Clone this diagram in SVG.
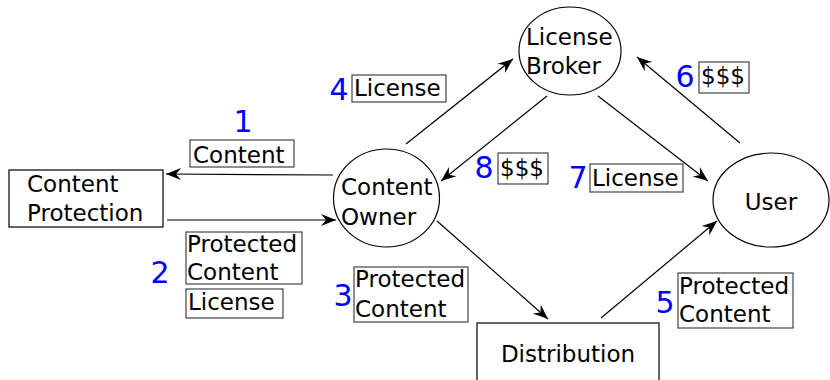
<svg xmlns="http://www.w3.org/2000/svg" width="830" height="380" viewBox="0 0 830 380">
<defs>
<style>
text{font-family:"DejaVu Sans",sans-serif;font-size:23px;fill:#000}
.num{font-size:30px;fill:#0000ff}
.node{fill:#fff;stroke:#000;stroke-width:1.2}
.lbl{fill:#fff;stroke:#444;stroke-width:1.2}
.conn{stroke:#000;stroke-width:1.2;fill:none;marker-end:url(#ah)}
</style>
<marker id="ah" viewBox="-15 -7 16 14" refX="0" refY="0" markerWidth="16" markerHeight="14" markerUnits="userSpaceOnUse" orient="auto">
<path d="M0,0 L-15,-6 L-10,0 L-15,6 z" fill="#000"/>
</marker>
</defs>
<rect width="830" height="380" fill="#fff"/>
<g id="connectors">
<line class="conn" x1="333" y1="175" x2="166" y2="174"/>
<line class="conn" x1="167" y1="220" x2="336" y2="220"/>
<line class="conn" x1="437" y1="221" x2="548" y2="319"/>
<line class="conn" x1="406" y1="144" x2="513" y2="59"/>
<line class="conn" x1="601" y1="318" x2="717" y2="221"/>
<line class="conn" x1="740" y1="143" x2="637" y2="57"/>
<line class="conn" x1="598" y1="96" x2="708" y2="181"/>
<line class="conn" x1="547" y1="96" x2="441" y2="181"/>
</g>
<g id="content-protection">
<rect class="node" x="9" y="170" width="154" height="57"/>
<text x="27" y="192">Content</text>
<text x="27" y="221">Protection</text>
</g>
<g id="content-owner">
<ellipse class="node" cx="386.5" cy="198" rx="53" ry="49"/>
<text x="341" y="195">Content</text>
<text x="341" y="225">Owner</text>
</g>
<g id="license-broker">
<ellipse class="node" cx="570" cy="51" rx="51" ry="44"/>
<text x="526" y="45">License</text>
<text x="526" y="74">Broker</text>
</g>
<g id="user">
<ellipse class="node" cx="771" cy="200" rx="58" ry="47"/>
<text x="771" y="210" text-anchor="middle">User</text>
</g>
<g id="distribution">
<rect class="node" x="477" y="323" width="182" height="70"/>
<text x="568" y="362" text-anchor="middle">Distribution</text>
</g>
<g id="label-1">
<text class="num" x="243" y="132" text-anchor="middle">1</text>
<rect class="lbl" x="190" y="140" width="104" height="27"/>
<text x="193" y="163">Content</text>
</g>
<g id="label-2">
<text class="num" x="160" y="283" text-anchor="middle">2</text>
<rect class="lbl" x="186" y="232" width="116" height="52"/>
<text x="187" y="252">Protected</text>
<text x="187" y="280">Content</text>
<rect class="lbl" x="186" y="289" width="97" height="29"/>
<text x="188" y="310">License</text>
</g>
<g id="label-3">
<text class="num" x="343" y="306" text-anchor="middle">3</text>
<rect class="lbl" x="354" y="267" width="114" height="55"/>
<text x="355" y="287">Protected</text>
<text x="355" y="317">Content</text>
</g>
<g id="label-4">
<text class="num" x="339" y="100" text-anchor="middle">4</text>
<rect class="lbl" x="352" y="75" width="94" height="27"/>
<text x="354" y="96">License</text>
</g>
<g id="label-5">
<text class="num" x="665" y="313" text-anchor="middle">5</text>
<rect class="lbl" x="678" y="273" width="115" height="55"/>
<text x="679" y="294">Protected</text>
<text x="679" y="322">Content</text>
</g>
<g id="label-6">
<text class="num" x="685" y="87" text-anchor="middle">6</text>
<rect class="lbl" x="699" y="62" width="50" height="31"/>
<text x="701" y="84">$$$</text>
</g>
<g id="label-7">
<text class="num" x="578" y="188" text-anchor="middle">7</text>
<rect class="lbl" x="590" y="164" width="93" height="28"/>
<text x="592" y="186">License</text>
</g>
<g id="label-8">
<text class="num" x="484" y="178" text-anchor="middle">8</text>
<rect class="lbl" x="498" y="153" width="50" height="31"/>
<text x="500" y="176">$$$</text>
</g>
</svg>
